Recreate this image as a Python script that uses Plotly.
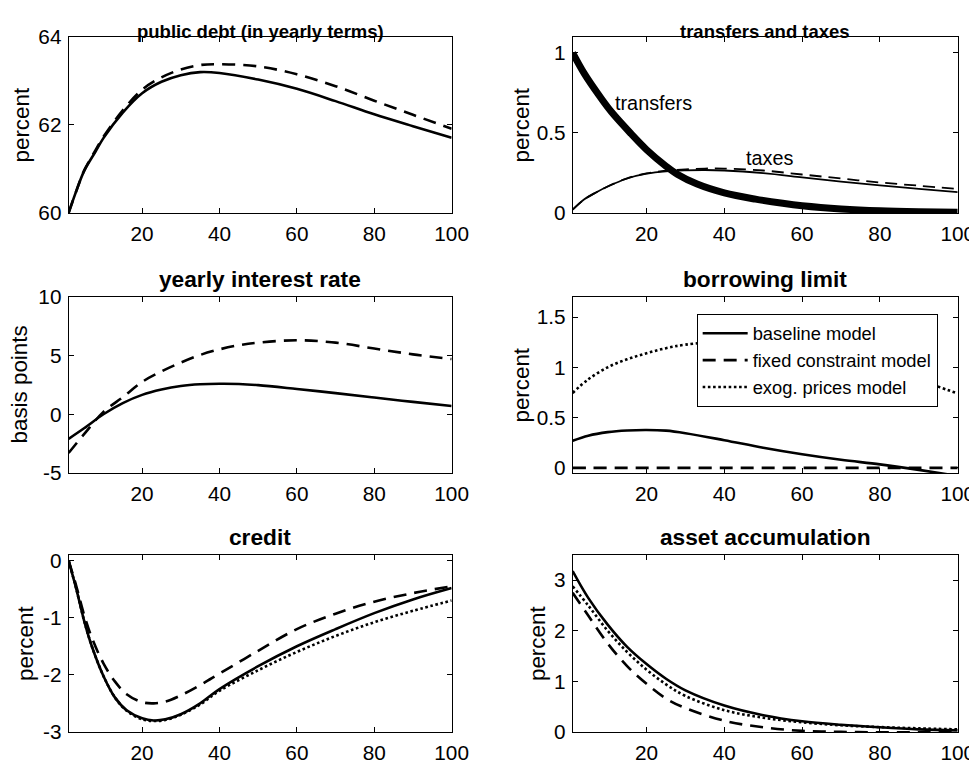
import plotly.graph_objects as go

W, H = 977, 766
FONT = "Liberation Sans, Arial, sans-serif"

# The page is shown with an offset and a slight shrink; map window pixels -> figure pixels.
SX, OX = 0.9825, 7.4
SY, OY = 0.97, 19.1
FS = 1 / SX  # font compensation

# ---------------- data ----------------
# public debt (in yearly terms)
debt_x = [1, 3, 5, 8, 10, 15, 20, 25, 30, 35, 40, 50, 60, 70, 80, 90, 100]
debt_base = [60.0, 60.5, 60.95, 61.4, 61.7, 62.28, 62.72, 62.98, 63.13, 63.2, 63.18,
             63.03, 62.82, 62.54, 62.24, 61.97, 61.71]
debt_fixed = [60.0, 60.5, 60.96, 61.43, 61.73, 62.33, 62.8, 63.08, 63.26, 63.36, 63.38,
              63.33, 63.15, 62.88, 62.55, 62.23, 61.91]

# transfers and taxes
transfers_x = [1, 4, 8, 11, 16, 20, 25, 28, 33, 40, 48, 55, 60, 70, 80, 90, 100]
transfers = [1.0, 0.87, 0.727, 0.63, 0.495, 0.395, 0.292, 0.24, 0.18, 0.125, 0.086,
             0.06, 0.045, 0.025, 0.013, 0.007, 0.004]
taxes_x = [1, 4, 7, 10, 15, 20, 25, 30, 35, 40, 50, 60, 70, 80, 90, 100]
taxes_base = [0.02, 0.085, 0.128, 0.165, 0.215, 0.245, 0.26, 0.266, 0.268, 0.265, 0.248,
              0.222, 0.195, 0.172, 0.15, 0.13]
taxes_fixed = [0.02, 0.085, 0.128, 0.165, 0.216, 0.247, 0.264, 0.272, 0.277, 0.277,
               0.265, 0.24, 0.215, 0.19, 0.17, 0.15]

# yearly interest rate (basis points)
rate_x = [1, 5, 10, 15, 20, 25, 30, 35, 40, 45, 50, 60, 70, 80, 90, 100]
rate_base = [-2.1, -1.2, 0.0, 0.95, 1.65, 2.1, 2.4, 2.55, 2.6, 2.58, 2.48, 2.15, 1.8,
             1.42, 1.05, 0.7]
rate_fixed = [-3.3, -1.7, 0.2, 1.45, 2.75, 3.65, 4.4, 5.05, 5.53, 5.88, 6.1, 6.3, 6.1,
              5.6, 5.1, 4.7]

# borrowing limit
limit_x = [1, 5, 10, 15, 20, 25, 30, 40, 50, 60, 70, 80, 90, 100]
limit_base = [0.27, 0.32, 0.355, 0.372, 0.377, 0.37, 0.345, 0.275, 0.2, 0.135, 0.08,
              0.035, -0.02, -0.08]
limit_fixed = [0, 0, 0, 0, 0, 0, 0, 0, 0, 0, 0, 0, 0, 0]
limit_exog = [0.745, 0.88, 1.0, 1.08, 1.14, 1.19, 1.225, 1.26, 1.26, 1.23, 1.16, 1.05,
              0.88, 0.74]

# credit
credit_x = [1, 3, 5, 7, 10, 13, 16, 20, 23, 26, 30, 35, 40, 50, 60, 70, 80, 90, 100]
credit_base = [0, -0.5, -1.05, -1.5, -2.02, -2.4, -2.62, -2.76, -2.8, -2.78, -2.69,
               -2.5, -2.25, -1.85, -1.5, -1.2, -0.92, -0.68, -0.48]
credit_fixed = [0, -0.45, -0.95, -1.35, -1.8, -2.12, -2.34, -2.48, -2.5, -2.47, -2.36,
                -2.18, -1.98, -1.58, -1.2, -0.93, -0.72, -0.57, -0.45]
credit_exog = [0, -0.5, -1.05, -1.5, -2.02, -2.4, -2.63, -2.78, -2.81, -2.79, -2.7,
               -2.52, -2.28, -1.92, -1.6, -1.32, -1.08, -0.88, -0.7]

# asset accumulation
asset_x = [1, 5, 10, 15, 20, 25, 30, 40, 50, 60, 70, 80, 90, 100]
asset_base = [3.18, 2.65, 2.12, 1.68, 1.34, 1.05, 0.82, 0.52, 0.33, 0.21, 0.14, 0.09,
              0.05, 0.03]
asset_fixed = [2.75, 2.3, 1.75, 1.3, 0.95, 0.66, 0.47, 0.22, 0.09, 0.02, 0.0, -0.01,
               -0.01, -0.01]
asset_exog = [2.88, 2.5, 2.0, 1.58, 1.23, 0.94, 0.71, 0.43, 0.28, 0.19, 0.13, 0.095,
              0.07, 0.05]

x_ticks = [20, 40, 60, 80, 100]
legend_names = ["baseline model", "fixed constraint model", "exog. prices model"]
titles = ["public debt (in yearly terms)", "transfers and taxes", "yearly interest rate",
          "borrowing limit", "credit", "asset accumulation"]
ylabels = ["percent", "percent", "basis points", "percent", "percent", "percent"]
y_ranges = [[60, 64], [0, 1.1], [-5, 10], [-0.05, 1.7], [-3, 0.1], [0, 3.5]]
y_ticks = [[60, 62, 64], [0, 0.5, 1], [-5, 0, 5, 10], [0, 0.5, 1, 1.5],
           [-3, -2, -1, 0], [0, 1, 2, 3]]
y_ticktext = [["60", "62", "64"], ["0", "0.5", "1"], ["-5", "0", "5", "10"],
              ["0", "0.5", "1", "1.5"], ["-3", "-2", "-1", "0"], ["0", "1", "2", "3"]]

# ---------------- layout geometry (window pixels) ----------------
col_px = [(68, 451), (572, 957)]
row_px = [(36, 212), (296, 472), (554, 731)]


def px_x(d):
    return ((d - OX) / SX) / W


def px_y(d):
    return 1 - ((d - OY) / SY) / H


fig = go.Figure()

SOLID = dict(color="black", width=2.6)
DASH = dict(color="black", width=2.6, dash="13px,8px")
DOT = dict(color="black", width=2.6, dash="2.6px,2.6px")


def add(i, x, y, line, name=None, legend=False):
    ax = "" if i == 0 else str(i + 1)
    fig.add_trace(go.Scatter(x=x, y=y, mode="lines",
                             line=dict(shape="spline", smoothing=1.0, **line),
                             xaxis="x" + ax, yaxis="y" + ax, name=name,
                             showlegend=legend, hoverinfo="skip"))


# panel 1
add(0, debt_x, debt_base, SOLID)
add(0, debt_x, debt_fixed, DASH)
# panel 2
add(1, transfers_x, transfers, dict(color="black", width=7))
add(1, taxes_x, taxes_base, dict(color="black", width=1.8))
add(1, taxes_x, taxes_fixed, dict(color="black", width=1.8, dash="12px,7px"))
# panel 3
add(2, rate_x, rate_base, SOLID)
add(2, rate_x, rate_fixed, DASH)
# panel 4 (legend)
add(3, limit_x, limit_base, SOLID, legend_names[0], True)
add(3, limit_x, limit_fixed, DASH, legend_names[1], True)
add(3, limit_x, limit_exog, DOT, legend_names[2], True)
# panel 5
add(4, credit_x, credit_base, SOLID)
add(4, credit_x, credit_fixed, DASH)
add(4, credit_x, credit_exog, DOT)
# panel 6
add(5, asset_x, asset_base, SOLID)
add(5, asset_x, asset_fixed, DASH)
add(5, asset_x, asset_exog, DOT)

layout = dict(
    width=W, height=H, autosize=False,
    margin=dict(l=0, r=0, t=0, b=0),
    paper_bgcolor="white", plot_bgcolor="white",
    font=dict(family=FONT, color="black", size=20),
    showlegend=True,
    legend=dict(x=px_x(696), y=px_y(313), xanchor="left", yanchor="top",
                bgcolor="white", bordercolor="black", borderwidth=1,
                font=dict(size=18 * FS, family=FONT), itemwidth=45,
                tracegroupgap=0),
)

annotations = []
for i in range(6):
    r, c = divmod(i, 2)
    x0, x1 = col_px[c]
    y0, y1 = row_px[r]
    ax = "" if i == 0 else str(i + 1)
    common = dict(showline=True, linecolor="black", linewidth=1, mirror="ticks",
                  ticks="inside", ticklen=5, tickwidth=1, tickcolor="black",
                  showgrid=False, zeroline=False, ticklabelstandoff=2,
                  tickfont=dict(size=20.4 * FS, family=FONT))
    layout["xaxis" + ax] = dict(domain=[px_x(x0), px_x(x1)], range=[1, 100],
                                tickvals=x_ticks, anchor="y" + ax, **common)
    layout["yaxis" + ax] = dict(domain=[px_y(y1), px_y(y0)], range=y_ranges[i],
                                tickvals=y_ticks[i], ticktext=y_ticktext[i],
                                anchor="x" + ax, **common)
    if r == 0:
        annotations.append(dict(text="<b>" + titles[i] + "</b>", x=px_x((x0 + x1) / 2),
                                y=1, xref="paper", yref="paper", borderpad=0,
                                xanchor="center", yanchor="top", showarrow=False,
                                font=dict(size=18.5, family=FONT)))
    else:
        annotations.append(dict(text="<b>" + titles[i] + "</b>", x=px_x((x0 + x1) / 2),
                                y=px_y(y0 - 18), xref="paper", yref="paper",
                                xanchor="center", yanchor="middle", showarrow=False,
                                font=dict(size=22.3 * FS, family=FONT)))

ylabel_x = [21, 521, 19, 521, 25, 537]
for i in range(6):
    r, c = divmod(i, 2)
    y0, y1 = row_px[r]
    annotations.append(dict(text=ylabels[i], x=px_x(ylabel_x[i]), y=px_y((y0 + y1) / 2),
                            xref="paper", yref="paper", xanchor="center", yanchor="middle",
                            textangle=-90, showarrow=False,
                            font=dict(size=22 * FS, family=FONT)))

annotations.append(dict(text="transfers", x=11.3, y=0.685, xref="x2", yref="y2",
                        xanchor="left", yanchor="middle", showarrow=False,
                        font=dict(size=19.5 * FS, family=FONT)))
annotations.append(dict(text="taxes", x=45, y=0.34, xref="x2", yref="y2",
                        xanchor="left", yanchor="middle", showarrow=False,
                        font=dict(size=19.5 * FS, family=FONT)))

layout["annotations"] = annotations
fig.update_layout(**layout)
fig.write_html("out.html")
